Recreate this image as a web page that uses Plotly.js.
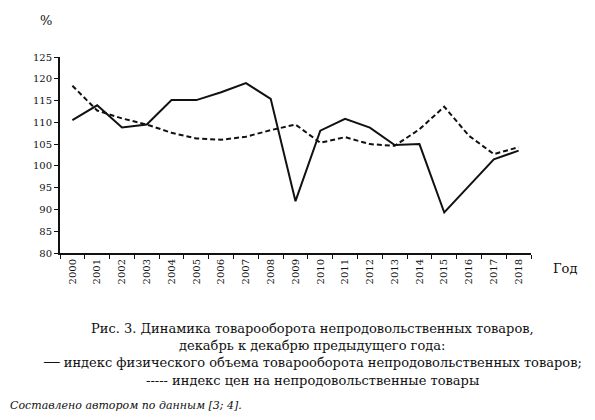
<!DOCTYPE html>
<html>
<head>
<meta charset="utf-8">
<script src="https://cdn.plot.ly/plotly-3.0.1.min.js"></script>
<style>
  body { margin: 0; background: #fff; }
  #chart { width: 595px; height: 420px; }
</style>
</head>
<body>
<div id="chart"></div>
<script>
// years on the category axis
var years = ['2000', '2001', '2002', '2003', '2004', '2005', '2006', '2007', '2008', '2009',
             '2010', '2011', '2012', '2013', '2014', '2015', '2016', '2017', '2018'];

// index of physical volume of non-food turnover (solid)
var volumeIndex = [110.5, 113.9, 108.8, 109.5, 115.1, 115.1, 116.9, 119.0, 115.4, 91.9,
                   108.1, 110.8, 108.8, 104.8, 105.0, 89.3, 95.4, 101.5, 103.5];

// price index for non-food goods (dashed)
var priceIndex = [118.4, 112.7, 110.9, 109.5, 107.6, 106.3, 106.0, 106.7, 108.2, 109.5,
                  105.3, 106.6, 105.0, 104.6, 108.4, 113.6, 106.9, 102.7, 104.3];

var yTicks = [80, 85, 90, 95, 100, 105, 110, 115, 120, 125];

// Liberation Serif is not picked up by the renderer, DejaVu Serif is
var serif = 'DejaVu Serif';

var data = [
    {
        type: 'scatter',
        mode: 'lines',
        x: years,
        y: volumeIndex,
        line: { color: '#111', width: 2 },
        showlegend: false
    },
    {
        type: 'scatter',
        mode: 'lines',
        x: years,
        y: priceIndex,
        line: { color: '#111', width: 2, dash: '5px,3px' },
        showlegend: false
    }
];

var captionLines = [
    'Рис. 3. Динамика товарооборота непродовольственных товаров,',
    'декабрь к декабрю предыдущего года:',
    '── индекс физического объема товарооборота непродовольственных товаров;',
    '----- индекс цен на непродовольственные товары'
];

var annotations = [
    { text: '%', x: 46, y: 20 },
    { text: 'Год', x: 565, y: 268 }
].map(function (a) {
    return {
        text: a.text, xref: 'paper', yref: 'paper',
        x: (a.x - 60) / 471, y: (253 - a.y) / 196,
        showarrow: false, xanchor: 'center', yanchor: 'middle',
        font: { family: serif, size: 13, color: '#111' }
    };
});

captionLines.forEach(function (t, i) {
    annotations.push({
        text: t, xref: 'paper', yref: 'paper',
        x: (312 - 60) / 471, y: (253 - (328 + i * 17.5)) / 196,
        showarrow: false, xanchor: 'center', yanchor: 'middle',
        font: { family: serif, size: 13, color: '#111' }
    });
});

annotations.push({
    text: '<i>Составлено автором по данным [3; 4].</i>',
    xref: 'paper', yref: 'paper',
    x: (8 - 60) / 471, y: (253 - 405) / 196,
    showarrow: false, xanchor: 'left', yanchor: 'middle',
    font: { family: serif, size: 11, color: '#111' }
});

var layout = {
    width: 595,
    height: 420,
    margin: { l: 60, r: 64, t: 57, b: 167 },
    paper_bgcolor: '#fff',
    plot_bgcolor: '#fff',
    font: { family: serif, color: '#111' },
    xaxis: {
        type: 'category',
        showgrid: false,
        zeroline: false,
        showline: true,
        linecolor: '#111',
        linewidth: 2,
        ticks: 'outside',
        tickson: 'boundaries',
        ticklen: 4,
        tickcolor: '#111',
        tickangle: -90,
        tickfont: { family: serif, size: 10, color: '#111' },
        range: [-0.5, 18.5]
    },
    yaxis: {
        range: [80, 125],
        tickvals: yTicks,
        showgrid: false,
        zeroline: false,
        showline: true,
        linecolor: '#111',
        linewidth: 2,
        ticks: 'outside',
        ticklen: 4,
        tickcolor: '#111',
        tickfont: { family: serif, size: 10, color: '#111' }
    },
    annotations: annotations
};

var config = { displayModeBar: false, staticPlot: true };
Plotly.newPlot('chart', data, layout, config);
</script>
</body>
</html>
